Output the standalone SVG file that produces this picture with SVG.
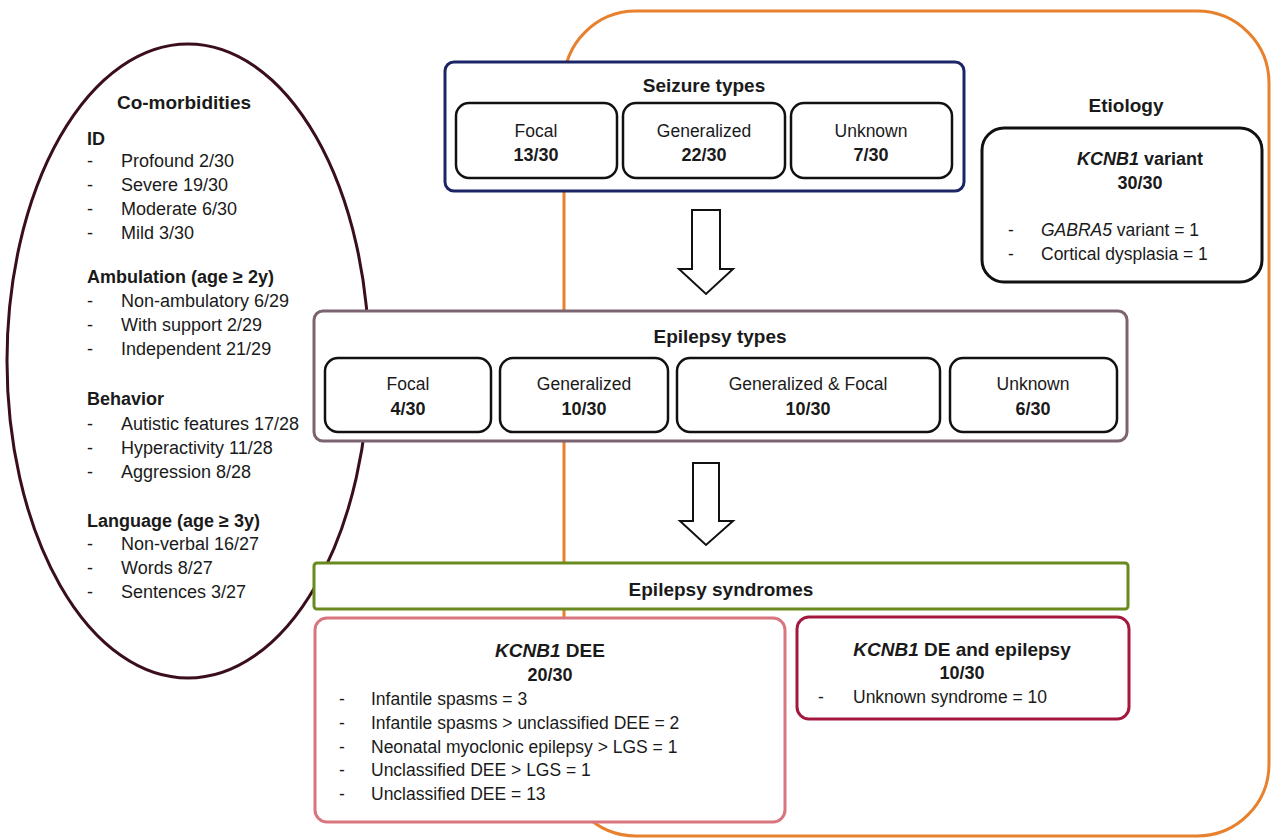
<svg xmlns="http://www.w3.org/2000/svg" width="1272" height="838" viewBox="0 0 1272 838">
<style>
text{font-family:"Liberation Sans",Arial,sans-serif;fill:#1a1a1a}
.t{font-size:19px;font-weight:bold;text-anchor:middle}
.r{font-size:17.5px}
.rc{font-size:17.5px;text-anchor:middle}
.n{font-size:18px;font-weight:bold;text-anchor:middle}
.e{font-size:18px}
.eb{font-size:18px;font-weight:bold}
.in{fill:#fff;stroke:#111;stroke-width:2.5}
.i{font-style:italic}
</style>
<rect width="1272" height="838" fill="#fff"/>
<g id="frame-etiology">
<rect x="564" y="11" width="705" height="825" rx="72" fill="none" stroke="#e8812e" stroke-width="3"/>
</g>
<g id="comorbidities">
<ellipse cx="188" cy="361" rx="181" ry="317" fill="none" stroke="#3b0e1e" stroke-width="3"/>
<text class="t" x="184" y="109">Co-morbidities</text>
<text class="eb" x="87" y="145">ID</text>
<text class="e" x="87" y="167">-</text><text class="e" x="121" y="167">Profound 2/30</text>
<text class="e" x="87" y="191">-</text><text class="e" x="121" y="191">Severe 19/30</text>
<text class="e" x="87" y="215">-</text><text class="e" x="121" y="215">Moderate 6/30</text>
<text class="e" x="87" y="239">-</text><text class="e" x="121" y="239">Mild 3/30</text>
<text class="eb" x="87" y="283">Ambulation (age ≥ 2y)</text>
<text class="e" x="87" y="307">-</text><text class="e" x="121" y="307">Non-ambulatory 6/29</text>
<text class="e" x="87" y="331">-</text><text class="e" x="121" y="331">With support 2/29</text>
<text class="e" x="87" y="355">-</text><text class="e" x="121" y="355">Independent 21/29</text>
<text class="eb" x="87" y="405">Behavior</text>
<text class="e" x="87" y="430">-</text><text class="e" x="121" y="430">Autistic features 17/28</text>
<text class="e" x="87" y="454">-</text><text class="e" x="121" y="454">Hyperactivity 11/28</text>
<text class="e" x="87" y="478">-</text><text class="e" x="121" y="478">Aggression 8/28</text>
<text class="eb" x="87" y="527">Language (age ≥ 3y)</text>
<text class="e" x="87" y="550">-</text><text class="e" x="121" y="550">Non-verbal 16/27</text>
<text class="e" x="87" y="574">-</text><text class="e" x="121" y="574">Words 8/27</text>
<text class="e" x="87" y="598">-</text><text class="e" x="121" y="598">Sentences 3/27</text>
</g>
<g id="seizure-types">
<rect x="445" y="62" width="519" height="129" rx="9" fill="#fff" stroke="#1c2566" stroke-width="3"/>
<text class="t" x="704" y="92">Seizure types</text>
<rect class="in" x="456" y="103" width="161" height="75" rx="13"/>
<text class="rc" x="536" y="137">Focal</text><text class="n" x="536" y="161">13/30</text>
<rect class="in" x="623" y="103" width="162" height="75" rx="13"/>
<text class="rc" x="704" y="137">Generalized</text><text class="n" x="704" y="161">22/30</text>
<rect class="in" x="791" y="103" width="161" height="75" rx="13"/>
<text class="rc" x="871" y="137">Unknown</text><text class="n" x="871" y="161">7/30</text>
</g>
<g id="etiology">
<text class="t" x="1126" y="112">Etiology</text>
<rect x="982" y="128" width="280" height="154" rx="22" fill="#fff" stroke="#111" stroke-width="3"/>
<text class="n" x="1140" y="165"><tspan class="i">KCNB1</tspan> variant</text>
<text class="n" x="1140" y="189">30/30</text>
<text class="r" x="1008" y="236">-</text><text class="r" x="1041" y="236"><tspan class="i">GABRA5</tspan> variant = 1</text>
<text class="r" x="1008" y="260">-</text><text class="r" x="1041" y="260">Cortical dysplasia = 1</text>
</g>
<g id="epilepsy-types">
<rect x="314" y="311" width="813" height="130" rx="9" fill="#fff" stroke="#7b6470" stroke-width="3"/>
<text class="t" x="720" y="343">Epilepsy types</text>
<rect class="in" x="325" y="358" width="166" height="74" rx="13"/>
<text class="rc" x="408" y="390">Focal</text><text class="n" x="408" y="415">4/30</text>
<rect class="in" x="500" y="358" width="168" height="74" rx="13"/>
<text class="rc" x="584" y="390">Generalized</text><text class="n" x="584" y="415">10/30</text>
<rect class="in" x="677" y="358" width="263" height="74" rx="13"/>
<text class="rc" x="808" y="390">Generalized &amp; Focal</text><text class="n" x="808" y="415">10/30</text>
<rect class="in" x="950" y="358" width="167" height="74" rx="13"/>
<text class="rc" x="1033" y="390">Unknown</text><text class="n" x="1033" y="415">6/30</text>
</g>
<g id="epilepsy-syndromes">
<rect x="314" y="563" width="814" height="46" rx="3" fill="#fff" stroke="#6a8a1e" stroke-width="3"/>
<text class="t" x="721" y="596">Epilepsy syndromes</text>
</g>
<g id="kcnb1-dee">
<rect x="315" y="618" width="470" height="204" rx="12" fill="#fff" stroke="#d9757f" stroke-width="3"/>
<text class="t" x="550" y="657"><tspan class="i">KCNB1</tspan> DEE</text>
<text class="n" x="550" y="681">20/30</text>
<text class="r" x="339" y="705">-</text><text class="r" x="371" y="705">Infantile spasms = 3</text>
<text class="r" x="339" y="729">-</text><text class="r" x="371" y="729">Infantile spasms &gt; unclassified DEE = 2</text>
<text class="r" x="339" y="753">-</text><text class="r" x="371" y="753">Neonatal myoclonic epilepsy &gt; LGS = 1</text>
<text class="r" x="339" y="776">-</text><text class="r" x="371" y="776">Unclassified DEE &gt; LGS = 1</text>
<text class="r" x="339" y="800">-</text><text class="r" x="371" y="800">Unclassified DEE = 13</text>
</g>
<g id="kcnb1-de-epilepsy">
<rect x="797" y="617" width="332" height="102" rx="12" fill="#fff" stroke="#a3183f" stroke-width="3"/>
<text class="t" x="962" y="656"><tspan class="i">KCNB1</tspan> DE and epilepsy</text>
<text class="n" x="962" y="679">10/30</text>
<text class="r" x="818" y="703">-</text><text class="r" x="853" y="703">Unknown syndrome = 10</text>
</g>
<g id="connectors" fill="#fff" stroke="#111" stroke-width="2">
<polygon points="692,210 720,210 720,269 733,269 706,294 679,269 692,269"/>
<polygon points="693,463 719,463 719,521 733,521 706,545 680,521 693,521"/>
</g>
</svg>
